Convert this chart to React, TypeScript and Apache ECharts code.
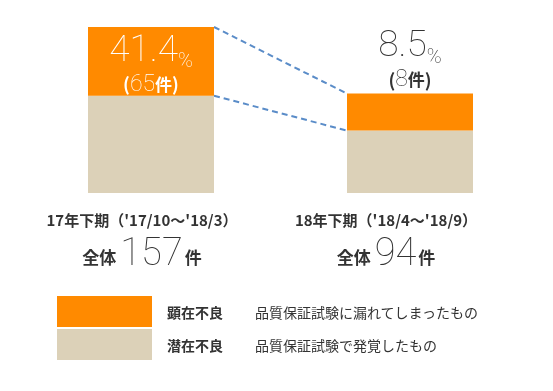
import React, { useEffect, useRef } from "react";
import * as echarts from "echarts";

const categories = ["17年下期（'17/10～'18/3）", "18年下期（'18/4～'18/9）"];
const totals = [157, 94];
const defectCounts = [65, 8];
const defectPercents = ["41.4", "8.5"];
// drawn bar heights (bar units)
const latentHeights = [92, 59];
const defectHeights = [65, 35];
const legendNames = ["顕在不良", "潜在不良"];
const legendDescs = ["品質保証試験に漏れてしまったもの", "品質保証試験で発覚したもの"];

const ORANGE = "#ff8a00";
const BEIGE = "#dcd1b8";
const TEXT = "#333333";
const CJK = "'Noto Sans CJK JP', 'Noto Sans', sans-serif";
const THIN = "Roboto, Lato, sans-serif";
const BAR_W = 126;

export default function App() {
  const ref = useRef<HTMLDivElement>(null);
  useEffect(() => {
    if (!ref.current) return;
    const chart = echarts.init(ref.current, null, { renderer: "svg" });
    const labelRich = (color: string) => ({
      pct: { fontFamily: THIN, fontWeight: 100, fontSize: 37, color, lineHeight: 44 },
      sign: { fontFamily: THIN, fontWeight: 100, fontSize: 20, color, lineHeight: 44, verticalAlign: "bottom" as const },
      paren: { fontFamily: CJK, fontWeight: "bold" as const, fontSize: 18, color, lineHeight: 26 },
      num: { fontFamily: THIN, fontWeight: 100, fontSize: 23, color, lineHeight: 26 },
      ken: { fontFamily: CJK, fontWeight: "bold" as const, fontSize: 17, color, lineHeight: 26 },
    });
    const labelText = (i: number) =>
      `{pct|${defectPercents[i]}}{sign|%}\n{paren|(}{num|${defectCounts[i]}}{ken|件}{paren|)}`;
    const padRight = [18, 48];
    chart.setOption({
      animation: false,
      grid: { left: 21.5, width: 518, top: 27, bottom: 198 },
      xAxis: {
        type: "category",
        data: categories.map((c, i) => ({
          value: c,
          textStyle: { padding: [0, padRight[i], 0, 0] },
        })),
        axisLine: { show: false },
        axisTick: { show: false },
        axisLabel: {
          interval: 0,
          margin: 14,
          formatter: (v: string) => {
            const i = categories.indexOf(v);
            return `{cat|${v}}\n{all|全体}{big|${totals[i]}}{ken|件}`;
          },
          rich: {
            cat: { fontFamily: CJK, fontWeight: "bold", fontSize: 15, color: TEXT, lineHeight: 24 },
            all: { fontFamily: CJK, fontWeight: "bold", fontSize: 17, color: TEXT, lineHeight: 42, padding: [8, 4, 0, 0] },
            big: { fontFamily: THIN, fontWeight: 100, fontSize: 38, color: TEXT, lineHeight: 42 },
            ken: { fontFamily: CJK, fontWeight: "bold", fontSize: 17, color: TEXT, lineHeight: 42, padding: [8, 0, 0, 2] },
          },
        },
      },
      yAxis: { type: "value", min: 0, max: 157, show: false, splitLine: { show: false } },
      legend: {
        orient: "vertical",
        left: 57,
        top: 296,
        padding: 0,
        itemWidth: 95,
        itemHeight: 31,
        itemGap: 2,
        icon: "rect",
        selectedMode: false,
        data: legendNames,
        formatter: (n: string) => `{name|${n}}{desc|${legendDescs[legendNames.indexOf(n)]}}`,
        textStyle: {
          rich: {
            name: { fontFamily: CJK, fontWeight: "bold", fontSize: 14, color: TEXT, width: 88, padding: [0, 0, 0, 10] },
            desc: { fontFamily: CJK, fontWeight: "normal", fontSize: 14, color: TEXT },
          },
        },
      },
      series: [
        {
          name: legendNames[1],
          type: "bar",
          stack: "s",
          barWidth: BAR_W,
          itemStyle: { color: BEIGE },
          data: latentHeights,
        },
        {
          name: legendNames[0],
          type: "bar",
          stack: "s",
          barWidth: BAR_W,
          itemStyle: { color: ORANGE },
          data: defectHeights.map((v, i) => ({
            value: v,
            label: {
              show: true,
              position: i === 0 ? "inside" : "top",
              distance: 2,
              offset: i === 0 ? [0, 0] : [0, 0],
              formatter: () => labelText(i),
              rich: labelRich(i === 0 ? "#ffffff" : TEXT),
            },
          })),
        },
      ],
    });
    const topL = chart.convertToPixel({ xAxisIndex: 0, yAxisIndex: 0 }, [0, latentHeights[0] + defectHeights[0]]);
    const midL = chart.convertToPixel({ xAxisIndex: 0, yAxisIndex: 0 }, [0, latentHeights[0]]);
    const topR = chart.convertToPixel({ xAxisIndex: 0, yAxisIndex: 0 }, [1, latentHeights[1] + defectHeights[1]]);
    const midR = chart.convertToPixel({ xAxisIndex: 0, yAxisIndex: 0 }, [1, latentHeights[1]]);
    const dash = { stroke: "#5a8cc8", lineWidth: 2, lineDash: [6, 4] };
    chart.setOption({
      graphic: [
        { type: "line", shape: { x1: topL[0] + BAR_W / 2, y1: topL[1], x2: topR[0] - BAR_W / 2, y2: topR[1] }, style: dash },
        { type: "line", shape: { x1: midL[0] + BAR_W / 2, y1: midL[1], x2: midR[0] - BAR_W / 2, y2: midR[1] }, style: dash },
      ],
    });
    return () => chart.dispose();
  }, []);
  return <div ref={ref} style={{ position: "fixed", left: 0, top: 0, width: 553, height: 391 }} />;
}
